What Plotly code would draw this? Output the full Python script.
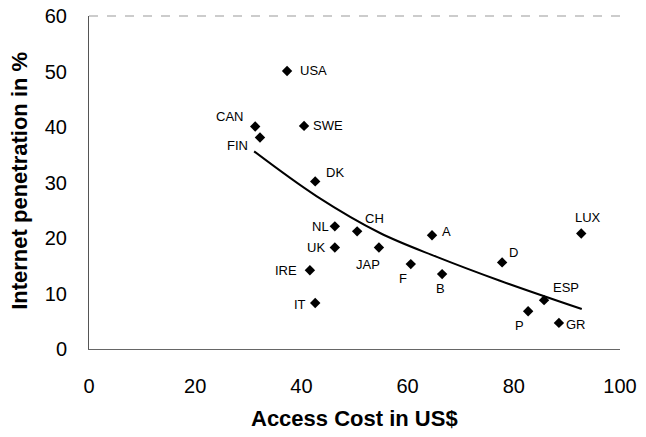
import plotly.graph_objects as go

# Data
countries = ["USA", "CAN", "FIN", "SWE", "DK", "NL", "CH", "UK", "JAP", "A",
             "IRE", "IT", "F", "B", "D", "LUX", "ESP", "P", "GR"]
access_cost = [37.3, 31.3, 32.2, 40.5, 42.6, 46.3, 50.5, 46.3, 54.6, 64.6,
               41.6, 42.6, 60.6, 66.5, 77.8, 92.7, 85.7, 82.7, 88.5]
penetration = [50.1, 40.1, 38.1, 40.2, 30.2, 22.1, 21.2, 18.3, 18.3, 20.5,
               14.2, 8.3, 15.3, 13.5, 15.6, 20.8, 8.8, 6.8, 4.7]

# Trend line
trend_x = [31.1, 42.9, 54.8, 65.5, 77.4, 92.8]
trend_y = [35.6, 27.5, 20.9, 16.6, 12.3, 7.2]

x_ticks = [0, 20, 40, 60, 80, 100]
y_ticks = [0, 10, 20, 30, 40, 50, 60]

x_title = "Access Cost in US$"
y_title = "Internet penetration in %"

# label offsets in pixels (style, not data)
label_offsets = {
    "USA": (26, 0), "CAN": (-26, -10), "FIN": (-22, 8), "SWE": (24, 0),
    "DK": (20, -9), "NL": (-14, 0), "CH": (17, -13), "UK": (-19, 0),
    "JAP": (-11, 17), "A": (14, -4), "IRE": (-24, 0), "IT": (-15, 2),
    "F": (-8, 14), "B": (-2, 14), "D": (11, -10), "LUX": (7, -16),
    "ESP": (22, -13), "P": (-9, 14), "GR": (17, 2),
}

FONT = "Liberation Sans, Arial, sans-serif"

fig = go.Figure()
fig.add_trace(go.Scatter(x=trend_x, y=trend_y, mode="lines",
                         line=dict(color="black", width=2, shape="spline", smoothing=1.0),
                         hoverinfo="skip", showlegend=False))
fig.add_trace(go.Scatter(x=access_cost, y=penetration, mode="markers",
                         marker=dict(symbol="diamond", size=8, color="black"),
                         showlegend=False))

annotations = []
for c, x, y in zip(countries, access_cost, penetration):
    dx, dy = label_offsets[c]
    annotations.append(dict(x=x, y=y, xref="x", yref="y", text=c,
                            showarrow=False, xshift=dx, yshift=-dy,
                            font=dict(family=FONT, size=13, color="black")))
annotations.append(dict(x=0.5, y=-0.21, xref="paper", yref="paper",
                        text="<b>" + x_title + "</b>", showarrow=False,
                        xanchor="center", yanchor="middle",
                        font=dict(family=FONT, size=22, color="black")))
annotations.append(dict(x=-0.13, y=0.505, xref="paper", yref="paper",
                        text="<b>" + y_title + "</b>", showarrow=False, textangle=-90,
                        xanchor="center", yanchor="middle",
                        font=dict(family=FONT, size=22, color="black")))

fig.update_layout(
    width=646, height=437,
    margin=dict(l=89, r=26, t=16, b=88),
    paper_bgcolor="white", plot_bgcolor="white",
    font=dict(family=FONT, color="black"),
    annotations=annotations,
    xaxis=dict(range=[0, 100], tickvals=x_ticks, showgrid=False, zeroline=False,
               showline=True, linecolor="#666666", linewidth=1, automargin=False,
               ticks="", tickfont=dict(size=20), ticklabelstandoff=19,
               ticklabeloverflow="allow"),
    yaxis=dict(range=[0, 60], tickvals=y_ticks, showgrid=False, zeroline=False,
               showline=True, linecolor="#555555", linewidth=1, automargin=False,
               ticks="", tickfont=dict(size=20), ticklabelstandoff=17,
               ticklabeloverflow="allow"),
    shapes=[dict(type="line", xref="paper", yref="paper", x0=0, x1=1, y0=1, y1=1,
                 line=dict(color="#999999", width=1, dash="dash"))],
)

# remove the default page margin so the figure sits at the window's corner
fig.write_html("out.html", config={"displayModeBar": False},
               post_script="document.body.style.margin='0px';")
